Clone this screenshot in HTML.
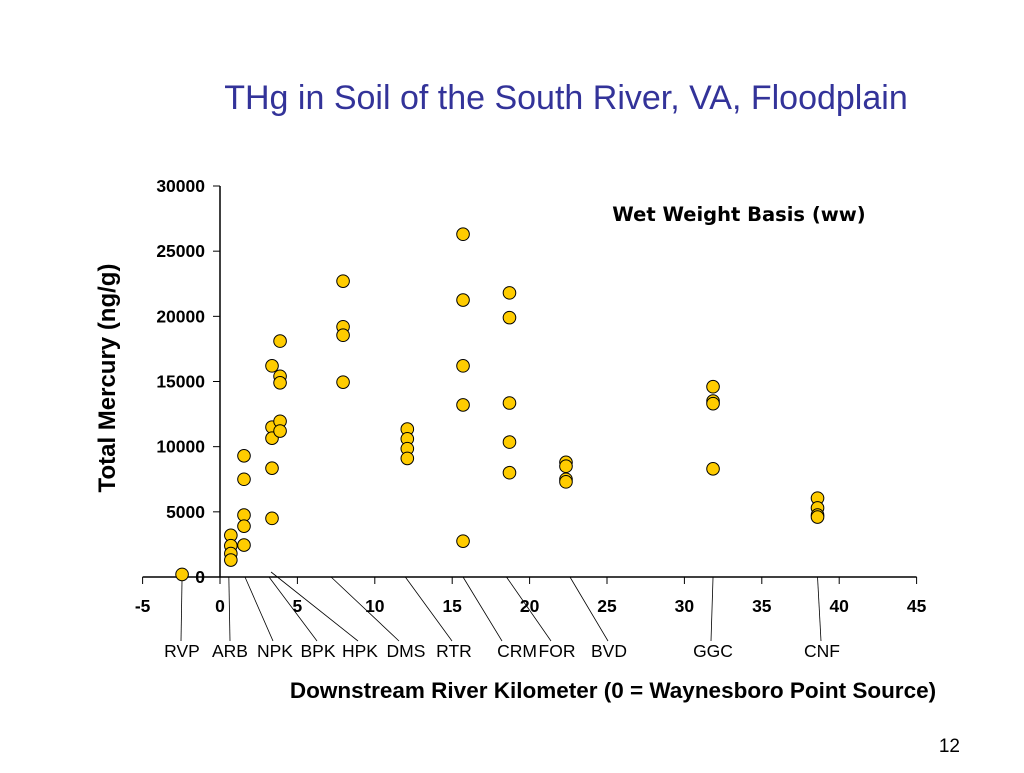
<!DOCTYPE html>
<html><head><meta charset="utf-8"><style>
body{margin:0;background:#fff;width:1024px;height:768px;overflow:hidden;font-family:"Liberation Sans",Arial,sans-serif}
</style></head><body>
<svg width="1024" height="768" xmlns="http://www.w3.org/2000/svg">
<text x="566" y="109" text-anchor="middle" font-size="34" fill="#333399">THg in Soil of the South River, VA, Floodplain</text>
<text x="739" y="221" text-anchor="middle" font-family="DejaVu Sans, sans-serif" font-weight="bold" font-size="19.5">Wet Weight Basis (ww)</text>
<text transform="translate(115,378) rotate(-90)" text-anchor="middle" font-weight="bold" font-size="24">Total Mercury (ng/g)</text>
<text x="613" y="698" text-anchor="middle" font-weight="bold" font-size="22.5">Downstream River Kilometer (0 = Waynesboro Point Source)</text>
<text x="960" y="752" text-anchor="end" font-size="19">12</text>
<g id="axes"></g><g id="leaders"></g><g id="pts"></g>
</svg>
<script>
const xTicks=[-5,0,5,10,15,20,25,30,35,40,45];
const yTicks=[0,5000,10000,15000,20000,25000,30000];
const sites=["RVP","ARB","NPK","BPK","HPK","DMS","RTR","CRM","FOR","BVD","GGC","CNF"];
const siteKm=[-2.45,0.7,1.55,3.36,3.88,7.95,12.1,15.7,18.7,22.35,31.85,38.6];
const siteValues=[[200],[3200,2400,1800,1300],[9300,7500,4750,3900,2450],[16200,11500,10650,8350,4500],[18100,15400,14900,11950,11200],[22700,19200,18550,14950],[11350,10600,9850,9100],[26300,21250,16200,13200,2750],[21800,19900,13350,10350,8000],[8800,8500,7500,7300],[14600,13500,13300,8300],[6050,5300,4750,4600]];
const ns="http://www.w3.org/2000/svg";
const X=v=>220+(v)*15.48, Y=v=>577-v*391/30000;
function mk(t,a,p){const e=document.createElementNS(ns,t);for(const k in a)e.setAttribute(k,a[k]);p.appendChild(e);return e;}
const ax=document.getElementById('axes');
let l=mk('line',{x1:X(-5),y1:577,x2:X(45),y2:577,stroke:'#000','stroke-width':1.5},ax);


l=mk('line',{x1:220,y1:Y(0),x2:220,y2:Y(30000),stroke:'#000','stroke-width':1.5},ax);


xTicks.forEach(t=>{mk('line',{x1:X(t),y1:577,x2:X(t),y2:584,stroke:'#000'},ax);
const tx=mk('text',{x:X(t),y:612,'text-anchor':'middle','font-size':17.5,'font-weight':'bold'},ax);tx.textContent=t;

});
yTicks.forEach(t=>{mk('line',{x1:213,y1:Y(t),x2:220,y2:Y(t),stroke:'#000'},ax);
const tx=mk('text',{x:205,y:Y(t)+6,'text-anchor':'end','font-size':17.5,'font-weight':'bold'},ax);tx.textContent=t;

});
const lg=document.getElementById('leaders');
const labX=[181,230,273,317,358,399,452,502,551,608,711,821];
const topY=[577,577,577,577,572,577,577,577,577,577,577,577];
const labelCx=[182,230,275,318,360,406,454,517,557,609,713,822];
sites.forEach((s,i)=>{
const ln=mk('line',{x1:X(siteKm[i])+(i==1?-2:i==2?1:i==3?-3:i==4?-9:i==5?-12:i==6?-2:i==7?0:i==8?-3:i==9?4:0),y1:topY[i],x2:labX[i],y2:641,stroke:'#000','stroke-width':0.8},lg);


const t=mk('text',{x:labelCx[i],y:657,'text-anchor':'middle','font-size':17.5},lg);t.textContent=s;


});
const pg=document.getElementById('pts');
siteValues.forEach((vals,i)=>vals.forEach(v=>{
const c=mk('circle',{cx:X(siteKm[i]),cy:Y(v),r:6.3,fill:'#FFCC00',stroke:'#000','stroke-width':1},pg);


}));
</script>
</body></html>
